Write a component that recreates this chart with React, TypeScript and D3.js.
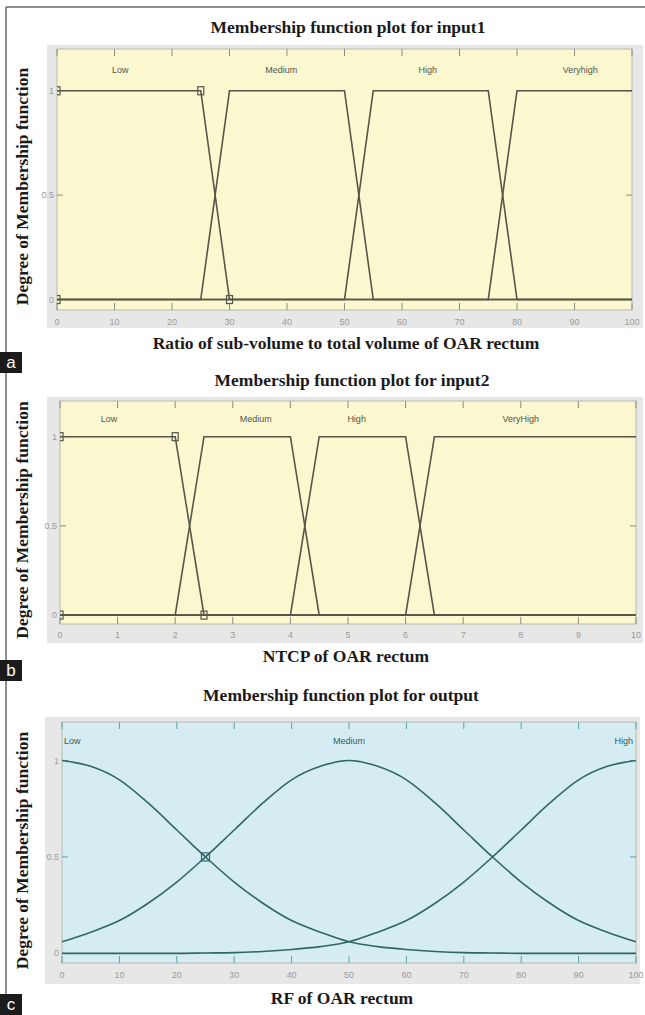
import React from 'react'
import * as d3 from 'd3'

// input1 - ratio of sub-volume to total volume (trapezoid corners)
const input1Ticks = [0, 10, 20, 30, 40, 50, 60, 70, 80, 90, 100]
const input1Names = ['Low', 'Medium', 'High', 'Veryhigh']
const input1NameX = [11, 39, 64.5, 91]
const input1Low = [[0, 1], [25, 1], [30, 0], [100, 0]]
const input1Medium = [[0, 0], [25, 0], [30, 1], [50, 1], [55, 0], [100, 0]]
const input1High = [[0, 0], [50, 0], [55, 1], [75, 1], [80, 0], [100, 0]]
const input1Veryhigh = [[0, 0], [75, 0], [80, 1], [100, 1]]
const input1Marks = [[0, 1], [25, 1], [30, 0], [0, 0]]

// input2 - NTCP
const input2Ticks = [0, 1, 2, 3, 4, 5, 6, 7, 8, 9, 10]
const input2Names = ['Low', 'Medium', 'High', 'VeryHigh']
const input2NameX = [0.85, 3.4, 5.15, 8.0]
const input2Low = [[0, 1], [2, 1], [2.5, 0], [10, 0]]
const input2Medium = [[0, 0], [2, 0], [2.5, 1], [4, 1], [4.5, 0], [10, 0]]
const input2High = [[0, 0], [4, 0], [4.5, 1], [6, 1], [6.5, 0], [10, 0]]
const input2VeryHigh = [[0, 0], [6, 0], [6.5, 1], [10, 1]]
const input2Marks = [[0, 1], [2, 1], [2.5, 0], [0, 0]]

// output - RF, curves read every 5 units
const outputTicks = [0, 10, 20, 30, 40, 50, 60, 70, 80, 90, 100]
const outputX = [0, 5, 10, 15, 20, 25, 30, 35, 40, 45, 50, 55, 60, 65, 70, 75, 80, 85, 90, 95, 100]
const outputLow = [1, 0.97, 0.9, 0.78, 0.64, 0.5, 0.37, 0.26, 0.17, 0.11, 0.06, 0.035, 0.02, 0.01, 0.004, 0.002, 0, 0, 0, 0, 0]
const outputMedium = [0.06, 0.11, 0.17, 0.26, 0.37, 0.5, 0.64, 0.78, 0.9, 0.97, 1, 0.97, 0.9, 0.78, 0.64, 0.5, 0.37, 0.26, 0.17, 0.11, 0.06]
const outputHigh = [0, 0, 0, 0, 0, 0.002, 0.004, 0.01, 0.02, 0.035, 0.06, 0.11, 0.17, 0.26, 0.37, 0.5, 0.64, 0.78, 0.9, 0.97, 1]
const outputNames = ['Low', 'Medium', 'High']
const outputNameX = [0, 50, 100]
const outputMarks = [[25, 0.5]]

const zip = (ys: number[]) => ys.map((v, i) => [outputX[i], v])

const panels = [
  {
    key: 'a',
    title: 'Membership function plot for input1',
    xLabel: 'Ratio of sub-volume to total volume of OAR rectum',
    domain: [0, 100],
    ticks: input1Ticks,
    names: input1Names,
    nameX: input1NameX,
    nameAnchor: ['middle', 'middle', 'middle', 'middle'],
    series: [input1Low, input1Medium, input1High, input1Veryhigh],
    marks: input1Marks,
    smooth: false,
    left: 57, right: 632, top: 49, bottom: 310,
    frame: [47, 45, 643, 328],
    titleX: 348, titleY: 33, labelX: 346, labelY: 349, tickY: 325, tagY: 352,
    bg: '#fbf8cf', line: '#55554a', tick: '#8d8d86', nameFill: '#55554a'
  },
  {
    key: 'b',
    title: 'Membership function plot for input2',
    xLabel: 'NTCP of OAR rectum',
    domain: [0, 10],
    ticks: input2Ticks,
    names: input2Names,
    nameX: input2NameX,
    nameAnchor: ['middle', 'middle', 'middle', 'middle'],
    series: [input2Low, input2Medium, input2High, input2VeryHigh],
    marks: input2Marks,
    smooth: false,
    left: 60, right: 636, top: 401, bottom: 624,
    frame: [47, 397, 643, 643],
    titleX: 352, titleY: 386, labelX: 346, labelY: 662, tickY: 638, tagY: 660,
    bg: '#fbf8cf', line: '#55554a', tick: '#8d8d86', nameFill: '#55554a'
  },
  {
    key: 'c',
    title: 'Membership function plot for output',
    xLabel: 'RF of OAR rectum',
    domain: [0, 100],
    ticks: outputTicks,
    names: outputNames,
    nameX: outputNameX,
    nameAnchor: ['start', 'middle', 'end'],
    series: [zip(outputLow), zip(outputMedium), zip(outputHigh)],
    marks: outputMarks,
    smooth: true,
    left: 62, right: 636, top: 722, bottom: 963,
    frame: [45, 717, 640, 984],
    titleX: 341, titleY: 701, labelX: 342, labelY: 1004, tickY: 978, tagY: 994,
    bg: '#d5ecf2', line: '#2f6666', tick: '#5aa3a6', nameFill: '#2f5f5f'
  }
]

function Panel({ p }: { p: any }) {
  const x = d3.scaleLinear().domain(p.domain).range([p.left, p.right])
  const y = d3.scaleLinear().domain([-0.05, 1.2]).range([p.bottom, p.top])
  const line = d3
    .line<number[]>()
    .x(d => x(d[0]))
    .y(d => y(d[1]))
    .curve(p.smooth ? d3.curveMonotoneX : d3.curveLinear)
  const clipId = 'clip-' + p.key
  const [fx0, fy0, fx1, fy1] = p.frame

  return (
    <g>
      {/* grey figure frame */}
      <rect x={fx0} y={fy0} width={fx1 - fx0} height={fy1 - fy0} fill="#e7e7e7" />
      <defs>
        <clipPath id={clipId}>
          <rect x={p.left} y={p.top} width={p.right - p.left} height={p.bottom - p.top} />
        </clipPath>
      </defs>
      <rect
        x={p.left}
        y={p.top}
        width={p.right - p.left}
        height={p.bottom - p.top}
        fill={p.bg}
        stroke="#b9b9b0"
        strokeWidth={1}
      />

      {/* ticks, top and bottom, inside the box */}
      {p.ticks.map((t: number) => (
        <g key={'t' + t}>
          <line x1={x(t)} x2={x(t)} y1={p.bottom} y2={p.bottom - 7} stroke={p.tick} strokeWidth={1} />
          <line x1={x(t)} x2={x(t)} y1={p.top} y2={p.top + 7} stroke={p.tick} strokeWidth={1} />
          <text
            x={x(t)}
            y={p.tickY}
            textAnchor="middle"
            fontSize={9}
            fontFamily="'Liberation Sans Narrow', 'Liberation Sans', sans-serif"
            fill="#9a9a9a"
          >
            {t}
          </text>
        </g>
      ))}
      {[0, 0.5, 1].map(v => (
        <g key={'y' + v}>
          <line x1={p.left} x2={p.left + 6} y1={y(v)} y2={y(v)} stroke={p.tick} />
          <line x1={p.right - 6} x2={p.right} y1={y(v)} y2={y(v)} stroke={p.tick} />
          <text
            x={p.left - 3}
            y={y(v) + 3}
            textAnchor="end"
            fontSize={9}
            fontFamily="'Liberation Sans Narrow', 'Liberation Sans', sans-serif"
            fill="#9a9a9a"
          >
            {v}
          </text>
        </g>
      ))}

      {/* membership functions */}
      <g clipPath={`url(#${clipId})`}>
        {p.series.map((s: number[][], i: number) => (
          <path key={'s' + i} d={line(s) || ''} fill="none" stroke={p.line} strokeWidth={1.6} />
        ))}
        {p.marks.map((m: number[], i: number) =>
          p.smooth ? (
            <g key={'m' + i}>
              <rect x={x(m[0]) - 4} y={y(m[1]) - 4} width={8} height={8} fill="none" stroke={p.line} strokeWidth={1.2} />
              <line x1={x(m[0]) - 4} x2={x(m[0]) + 4} y1={y(m[1]) - 4} y2={y(m[1]) + 4} stroke={p.line} />
              <line x1={x(m[0]) - 4} x2={x(m[0]) + 4} y1={y(m[1]) + 4} y2={y(m[1]) - 4} stroke={p.line} />
            </g>
          ) : (
            <rect
              key={'m' + i}
              x={x(m[0]) - 3}
              y={y(m[1]) - 4}
              width={6}
              height={8}
              fill="none"
              stroke={p.line}
              strokeWidth={1.2}
            />
          )
        )}
      </g>

      {p.names.map((n: string, i: number) => (
        <text
          key={n}
          x={x(p.nameX[i]) + (p.nameAnchor[i] === 'start' ? 2 : p.nameAnchor[i] === 'end' ? -3 : 0)}
          y={y(1.1) + 3}
          textAnchor={p.nameAnchor[i]}
          fontSize={9}
          fontFamily="'Liberation Sans Narrow', 'Liberation Sans', sans-serif"
          fill={p.nameFill}
        >
          {n}
        </text>
      ))}

      {/* titles */}
      <text
        x={p.titleX}
        y={p.titleY}
        textAnchor="middle"
        fontFamily="'Liberation Serif', serif"
        fontWeight="bold"
        fontSize={17.5}
        fill="#1a1a1a"
      >
        {p.title}
      </text>
      <text
        x={p.labelX}
        y={p.labelY}
        textAnchor="middle"
        fontFamily="'Liberation Serif', serif"
        fontWeight="bold"
        fontSize={17.5}
        fill="#1a1a1a"
      >
        {p.xLabel}
      </text>
      <text
        transform={`translate(28,${(fy0 + fy1) / 2}) rotate(-90)`}
        textAnchor="middle"
        fontFamily="'Liberation Serif', serif"
        fontWeight="bold"
        fontSize={17.5}
        fill="#1a1a1a"
      >
        Degree of Membership function
      </text>

      {/* panel tag */}
      <rect x={0} y={p.tagY} width={22} height={21} fill="#1b1b1b" />
      <text
        x={11}
        y={p.tagY + 16}
        textAnchor="middle"
        fontFamily="'Liberation Sans', sans-serif"
        fontSize={17}
        fill="#ffffff"
      >
        {p.key}
      </text>
    </g>
  )
}

export default function App() {
  return (
    <svg
      width={645}
      height={1015}
      style={{ position: 'absolute', left: 0, top: 0, background: '#ffffff' }}
    >
      <rect width={645} height={1015} fill="#ffffff" />
      {/* outer border, top and left */}
      <line x1={6} x2={645} y1={7} y2={7} stroke="#6a6a6a" strokeWidth={1.5} />
      <line x1={6} x2={6} y1={7} y2={1015} stroke="#6a6a6a" strokeWidth={1.5} />
      {panels.map(p => (
        <Panel key={p.key} p={p} />
      ))}
    </svg>
  )
}
